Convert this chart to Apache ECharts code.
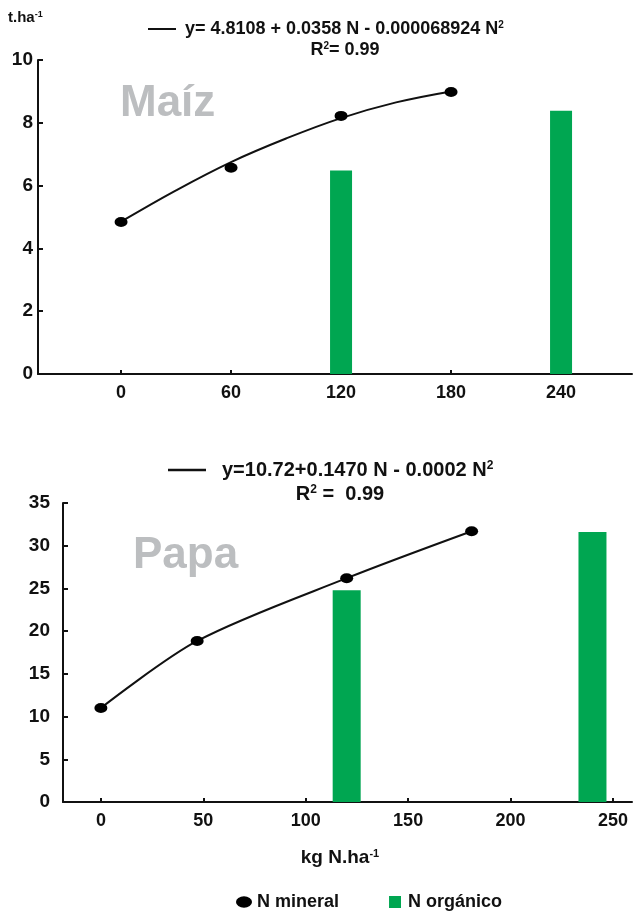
<!DOCTYPE html>
<html>
<head>
<meta charset="utf-8">
<script src="https://cdn.jsdelivr.net/npm/echarts@6/dist/echarts.min.js"></script>
<style>html,body{margin:0;padding:0;background:#fff;}#c{width:634px;height:912px;}</style>
</head>
<body>
<div id="c"></div>
<script>
// ---- Maíz (top panel) ----
var maizTicks = [0, 60, 120, 180, 240];
var maizMineralN = [0, 60, 120, 180];
var maizMineralY = [4.84, 6.57, 8.22, 8.98];
var maizCurveN = [0, 30, 60, 90, 120, 150, 180];
var maizCurveY = [4.85, 5.85, 6.75, 7.5, 8.15, 8.65, 9.0];
var maizOrgN = [120, 240];
var maizOrgY = [6.48, 8.38];

// ---- Papa (bottom panel) ----
var papaTicks = [0, 50, 100, 150, 200, 250];
var papaMineralN = [0, 47, 120, 181];
var papaMineralY = [11.0, 18.85, 26.2, 31.7];
var papaCurveN = [0, 47, 120, 181];
var papaCurveY = [11.0, 18.85, 26.2, 31.7];
var papaOrgN = [120, 240];
var papaOrgY = [24.8, 31.6];

function pairs(a, b) { return a.map(function (v, i) { return [v, b[i]]; }); }

var FONT = "'Liberation Sans', Arial, sans-serif";
var ELL = 'path://M0 5A7 5 0 1 0 14 5A7 5 0 1 0 0 5Z';
var GREEN = '#00a651';

function xAx(grid, min, max, ticks) {
  return {
    type: 'value', gridIndex: grid, min: min, max: max,
    splitLine: { show: false },
    axisLine: { show: true, onZero: false, lineStyle: { color: '#111', width: 2 } },
    axisTick: { show: true, inside: true, length: 4, customValues: ticks, lineStyle: { color: '#111', width: 2 } },
    axisLabel: { customValues: ticks, margin: 10, color: '#111', fontSize: 18, fontWeight: 'bold', fontFamily: FONT }
  };
}
function yAx(grid, max, interval, margin) {
  return {
    type: 'value', gridIndex: grid, min: 0, max: max, interval: interval,
    splitLine: { show: false },
    axisLine: { show: true, onZero: false, lineStyle: { color: '#111', width: 2 } },
    axisTick: { show: true, inside: true, length: 5, lineStyle: { color: '#111', width: 2 } },
    axisLabel: { margin: margin, color: '#111', fontSize: 19, fontWeight: 'bold', fontFamily: FONT }
  };
}

var sup = { fontSize: 10, fontWeight: 'bold', verticalAlign: 'top', fontFamily: FONT, fill: '#111' };
var dotStyle = { color: '#000', opacity: 1 };

var option = {
  animation: false,
  backgroundColor: '#fff',
  textStyle: { fontFamily: FONT },
  grid: [
    { left: 38, top: 60, width: 594, height: 314 },
    { left: 63, top: 503, width: 569, height: 299 }
  ],
  xAxis: [xAx(0, -45.3, 278.7, maizTicks), xAx(1, -18.5, 259.3, papaTicks)],
  yAxis: [yAx(0, 10, 2, 5), yAx(1, 35, 5, 13)],
  legend: {
    left: 231, top: 888, itemWidth: 16, itemHeight: 12, itemGap: 50,
    textStyle: { fontSize: 18, fontWeight: 'bold', color: '#111', fontFamily: FONT },
    data: [
      { name: 'N mineral', icon: ELL, itemStyle: { color: '#000', opacity: 1 } },
      { name: 'N orgánico', icon: 'path://M0 0H12V12H0Z', itemStyle: { color: GREEN, opacity: 1 } }
    ]
  },
  series: [
    { name: 'fit1', type: 'line', xAxisIndex: 0, yAxisIndex: 0, data: pairs(maizCurveN, maizCurveY),
      smooth: 0.4, showSymbol: false, lineStyle: { color: '#111', width: 2 }, z: 3 },
    { name: 'N orgánico', type: 'bar', xAxisIndex: 0, yAxisIndex: 0, data: pairs(maizOrgN, maizOrgY),
      barWidth: 22, itemStyle: { color: GREEN }, z: 2 },
    { name: 'N mineral', type: 'scatter', xAxisIndex: 0, yAxisIndex: 0, data: pairs(maizMineralN, maizMineralY),
      symbol: ELL, symbolSize: [13, 10], itemStyle: dotStyle, z: 4 },
    { name: 'fit2', type: 'line', xAxisIndex: 1, yAxisIndex: 1, data: pairs(papaCurveN, papaCurveY),
      smooth: 0.3, showSymbol: false, lineStyle: { color: '#111', width: 2 }, z: 3 },
    { name: 'N orgánico', type: 'bar', xAxisIndex: 1, yAxisIndex: 1, data: pairs(papaOrgN, papaOrgY),
      barWidth: 28, itemStyle: { color: GREEN }, z: 2 },
    { name: 'N mineral', type: 'scatter', xAxisIndex: 1, yAxisIndex: 1, data: pairs(papaMineralN, papaMineralY),
      symbol: ELL, symbolSize: [13, 10], itemStyle: dotStyle, z: 4 }
  ],
  graphic: [
    { type: 'text', left: 8, top: 10, style: { text: 't.ha{s|-1}', fontSize: 15, fontWeight: 'bold', fill: '#111', fontFamily: FONT,
      rich: { s: { fontSize: 9, fontWeight: 'bold', verticalAlign: 'top', fill: '#111' } } } },
    { type: 'line', shape: { x1: 148, y1: 29, x2: 176, y2: 29 }, style: { stroke: '#111', lineWidth: 2 } },
    { type: 'text', x: 185, y: 29, style: { text: 'y= 4.8108 + 0.0358 N - 0.000068924 N{s|2}', fontSize: 18, fontWeight: 'bold', fill: '#111', fontFamily: FONT,
      verticalAlign: 'middle', rich: { s: sup } } },
    { type: 'text', x: 345, y: 50, style: { text: 'R{s|2}= 0.99', fontSize: 18, fontWeight: 'bold', fill: '#111', fontFamily: FONT,
      align: 'center', verticalAlign: 'middle', rich: { s: sup } } },
    { type: 'text', x: 120, y: 104, style: { text: 'Maíz', fontSize: 44, fontWeight: 'bold', fill: '#bcbec0', fontFamily: FONT, verticalAlign: 'middle' } },
    { type: 'line', shape: { x1: 168, y1: 470, x2: 206, y2: 470 }, style: { stroke: '#111', lineWidth: 2.5 } },
    { type: 'text', x: 222, y: 470, style: { text: 'y=10.72+0.1470 N - 0.0002 N{s|2}', fontSize: 20, fontWeight: 'bold', fill: '#111', fontFamily: FONT,
      verticalAlign: 'middle', rich: { s: { fontSize: 12, fontWeight: 'bold', verticalAlign: 'top', fill: '#111' } } } },
    { type: 'text', x: 340, y: 494, style: { text: 'R{s|2} =  0.99', fontSize: 20, fontWeight: 'bold', fill: '#111', fontFamily: FONT,
      align: 'center', verticalAlign: 'middle', rich: { s: { fontSize: 12, fontWeight: 'bold', verticalAlign: 'top', fill: '#111' } } } },
    { type: 'text', x: 133, y: 556, style: { text: 'Papa', fontSize: 44, fontWeight: 'bold', fill: '#bcbec0', fontFamily: FONT, verticalAlign: 'middle' } },
    { type: 'text', x: 340, y: 858, style: { text: 'kg N.ha{s|-1}', fontSize: 19, fontWeight: 'bold', fill: '#111', fontFamily: FONT,
      align: 'center', verticalAlign: 'middle', rich: { s: { fontSize: 11, fontWeight: 'bold', verticalAlign: 'top', fill: '#111' } } } }
  ]
};

var chart = echarts.init(document.getElementById('c'), null, { renderer: 'canvas' });
chart.setOption(option);
</script>
</body>
</html>
